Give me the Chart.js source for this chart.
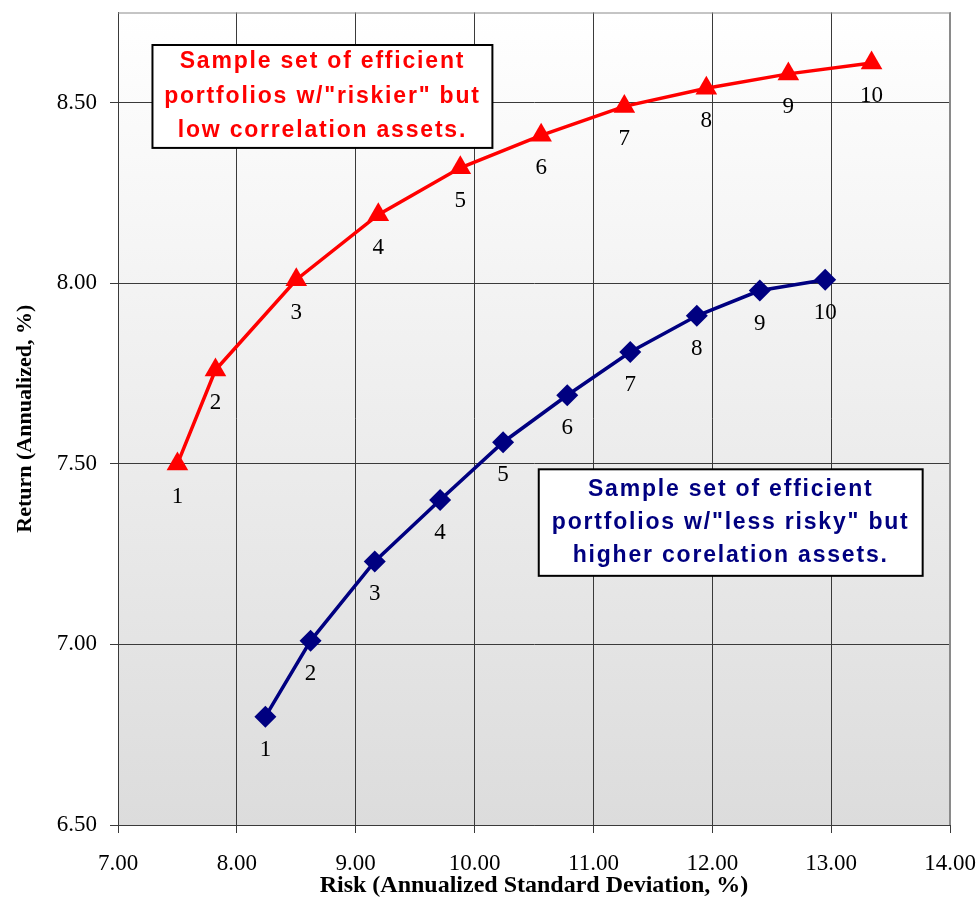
<!DOCTYPE html>
<html>
<head>
<meta charset="utf-8">
<title>Efficient portfolios</title>
<script src="https://cdn.jsdelivr.net/npm/chart.js@4.4.0/dist/chart.umd.min.js"></script>
<style>
    html, body { margin: 0; padding: 0; background: #ffffff; }
    #wrap { width: 980px; height: 900px; }
</style>
</head>
<body>
<div id="wrap"><canvas id="frontier" width="980" height="900"></canvas></div>
<script>
// ========================================
// DATA
// ========================================

// Portfolio numbers (labels under each point)
const portfolioNumbers = [1, 2, 3, 4, 5, 6, 7, 8, 9, 10];

// "Riskier" but low correlation assets
const riskyRisk   = [7.50, 7.82, 8.50, 9.19, 9.88, 10.56, 11.26, 11.95, 12.64, 13.34];
const riskyReturn = [7.50, 7.76, 8.01, 8.19, 8.32, 8.41, 8.49, 8.54, 8.58, 8.61];

// "Less risky" but higher correlation assets
const safeRisk   = [8.24, 8.62, 9.16, 9.71, 10.24, 10.78, 11.31, 11.87, 12.40, 12.95];
const safeReturn = [6.80, 7.01, 7.23, 7.40, 7.56, 7.69, 7.81, 7.91, 7.98, 8.01];

// Axis ranges / tick labels
const xTicks = [7.00, 8.00, 9.00, 10.00, 11.00, 12.00, 13.00, 14.00];
const yTicks = [6.50, 7.00, 7.50, 8.00, 8.50];
const yMax = 8.75;

// Annotation text
const riskyNote = ['Sample set of efficient', 'portfolios w/"riskier" but', 'low correlation assets.'];
const safeNote  = ['Sample set of efficient', 'portfolios w/"less risky" but', 'higher corelation assets.'];

// ========================================
// HELPERS
// ========================================

function toPoints(xs, ys) {
    return xs.map((x, i) => ({ x: x, y: ys[i] }));
}

const serif = '"Liberation Serif", "Times New Roman", serif';
const sans = '"Liberation Sans", Arial, sans-serif';

/**
 * Gradient plot background + gray top/right frame
 */
const plotBackground = {
    id: 'plotBackground',
    beforeDraw(chart) {
        const { ctx, chartArea: a } = chart;
        const g = ctx.createLinearGradient(0, a.top, 0, a.bottom);
        g.addColorStop(0, '#ffffff');
        g.addColorStop(1, '#dcdcdc');
        ctx.save();
        ctx.fillStyle = g;
        ctx.fillRect(a.left, a.top, a.right - a.left, a.bottom - a.top);
        ctx.restore();
    },
    afterDraw(chart) {
        const { ctx, chartArea: a } = chart;
        ctx.save();
        ctx.strokeStyle = '#8a8a8a';
        ctx.lineWidth = 1;
        ctx.beginPath();
        ctx.moveTo(a.left, a.top + 0.5);
        ctx.lineTo(a.right, a.top + 0.5);
        ctx.stroke();
        ctx.lineWidth = 2;
        ctx.beginPath();
        ctx.moveTo(a.right, a.top);
        ctx.lineTo(a.right, a.bottom);
        ctx.stroke();
        ctx.restore();
    }
};

/**
 * Portfolio number under every marker
 */
const pointNumbers = {
    id: 'pointNumbers',
    afterDatasetsDraw(chart) {
        const { ctx } = chart;
        ctx.save();
        ctx.font = '23px ' + serif;
        ctx.fillStyle = '#000000';
        ctx.textAlign = 'center';
        ctx.textBaseline = 'middle';
        chart.data.datasets.forEach((ds, di) => {
            const meta = chart.getDatasetMeta(di);
            meta.data.forEach((pt, i) => {
                ctx.fillText(String(portfolioNumbers[i]), pt.x, pt.y + 33);
            });
        });
        ctx.restore();
    }
};

/**
 * Text boxes, placed in data units
 */
const noteBoxes = {
    id: 'noteBoxes',
    afterDraw(chart) {
        const { ctx, scales } = chart;
        const boxes = [
            { x0: 7.29, x1: 10.15, y0: 8.66, y1: 8.375, lines: riskyNote, color: '#ff0000', lh: 34.5 },
            { x0: 10.54, x1: 13.77, y0: 7.485, y1: 7.19, lines: safeNote, color: '#000080', lh: 33 }
        ];
        boxes.forEach(b => {
            const l = scales.x.getPixelForValue(b.x0);
            const r = scales.x.getPixelForValue(b.x1);
            const t = scales.y.getPixelForValue(b.y0);
            const btm = scales.y.getPixelForValue(b.y1);
            ctx.save();
            ctx.fillStyle = '#ffffff';
            ctx.fillRect(l, t, r - l, btm - t);
            ctx.strokeStyle = '#000000';
            ctx.lineWidth = 2;
            ctx.strokeRect(l, t, r - l, btm - t);
            ctx.fillStyle = b.color;
            ctx.font = 'bold 23px ' + sans;
            ctx.letterSpacing = '1.8px';
            ctx.textAlign = 'center';
            ctx.textBaseline = 'middle';
            const cx = (l + r) / 2;
            const cy = (t + btm) / 2;
            b.lines.forEach((line, i) => {
                ctx.fillText(line, cx, cy + (i - (b.lines.length - 1) / 2) * b.lh);
            });
            ctx.restore();
        });
    }
};

// ========================================
// CHART
// ========================================

const ctx = document.getElementById('frontier');

new Chart(ctx, {
    type: 'scatter',
    data: {
        datasets: [
            {
                label: 'Riskier, low correlation',
                data: toPoints(riskyRisk, riskyReturn),
                showLine: true,
                borderColor: '#ff0000',
                backgroundColor: '#ff0000',
                borderWidth: 3.5,
                pointStyle: 'triangle',
                pointRadius: 12.5,
                pointHoverRadius: 12.5,
                pointBorderWidth: 0,
                tension: 0
            },
            {
                label: 'Less risky, higher correlation',
                data: toPoints(safeRisk, safeReturn),
                showLine: true,
                borderColor: '#000080',
                backgroundColor: '#000080',
                borderWidth: 3.5,
                pointStyle: 'rectRot',
                pointRadius: 11,
                pointHoverRadius: 11,
                pointBorderWidth: 0,
                tension: 0
            }
        ]
    },
    options: {
        responsive: false,
        animation: false,
        layout: { padding: { left: 0, right: 30, top: 7, bottom: 0 } },
        plugins: {
            legend: { display: false },
            tooltip: { enabled: false }
        },
        scales: {
            x: {
                type: 'linear',
                min: xTicks[0],
                max: xTicks[xTicks.length - 1],
                afterBuildTicks: s => { s.ticks = xTicks.map(v => ({ value: v })); },
                afterFit: s => { s.height = 75; s.paddingLeft = 0; s.paddingRight = 0; },
                ticks: {
                    callback: v => Number(v).toFixed(2),
                    color: '#000000',
                    font: { family: serif, size: 23 },
                    padding: 17,
                    maxRotation: 0
                },
                grid: { color: '#3a3a3a', lineWidth: 1, tickLength: 8, tickColor: '#3a3a3a' },
                border: { color: '#3a3a3a', width: 1 },
                title: {
                    display: true,
                    text: 'Risk (Annualized Standard Deviation, %)',
                    color: '#000000',
                    font: { family: serif, size: 24, weight: 'bold' },
                    padding: { top: 0, bottom: 0 }
                }
            },
            y: {
                type: 'linear',
                min: yTicks[0],
                max: yMax,
                afterBuildTicks: s => { s.ticks = yTicks.map(v => ({ value: v })); },
                afterFit: s => { s.width = 118; s.paddingTop = 0; s.paddingBottom = 0; },
                ticks: {
                    callback: v => Number(v).toFixed(2),
                    color: '#000000',
                    font: { family: serif, size: 23 },
                    padding: 13
                },
                grid: { color: '#3a3a3a', lineWidth: 1, tickLength: 8, tickColor: '#3a3a3a' },
                border: { color: '#3a3a3a', width: 1 },
                title: {
                    display: true,
                    text: 'Return (Annualized, %)',
                    color: '#000000',
                    font: { family: serif, size: 22, weight: 'bold' },
                    padding: { top: 12, bottom: 0 }
                }
            }
        }
    },
    plugins: [plotBackground, pointNumbers, noteBoxes]
});
</script>
</body>
</html>
